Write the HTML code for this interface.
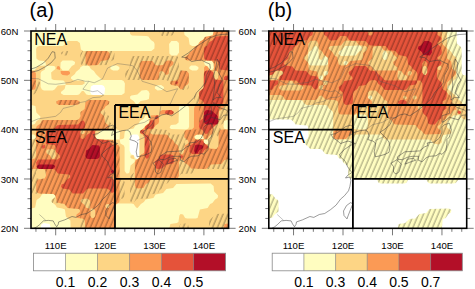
<!DOCTYPE html>
<html><head><meta charset="utf-8"><style>html,body{margin:0;padding:0;background:#fff;width:475px;height:289px;overflow:hidden}svg{display:block}</style></head>
<body><svg width="475" height="289" viewBox="0 0 475 289">
<style>
text{font-family:"Liberation Sans",sans-serif;fill:#000}
.t{font-size:9.6px}
.r{font-size:16px}
.c{font-size:14px}
.p{font-size:20px}
</style>
<defs><pattern id="hp" patternUnits="userSpaceOnUse" width="4.5" height="10" patternTransform="rotate(23)"><line x1="1" y1="0" x2="1" y2="10" stroke="#000" stroke-width="0.7" stroke-opacity="0.58"/></pattern></defs>
<rect width="475" height="289" fill="#fff"/>
<g><path d="M132.9,134.4L137.4,134.6L139.6,137.6L139.6,156.1L137.6,158.9L136.1,158.6L133.4,154.9L131.1,153.9L129.6,151.1L129.6,137.6L130.4,135.6ZM90.9,86.4L93.4,85.1L101.9,85.1L103.9,85.9L105.1,88.4L104.4,93.9L101.9,95.1L93.4,95.1L91.4,94.4L90.1,91.9ZM31.1,31.1L31.1,228.1L40.6,228.1L41.4,224.4L43.9,223.1L49.6,223.9L50.9,228.1L228.4,228.1L228.4,31.1Z" fill="#FFFDC0" fill-rule="evenodd"/>
<path d="M204.4,139.4L206.6,139.6L208.1,140.9L208.4,142.6L207.4,143.9L205.6,144.1L204.1,142.9L203.6,140.1ZM194.4,136.1L197.1,134.4L201.6,134.6L203.4,136.1L203.9,139.1L196.1,139.4L194.4,137.9ZM95.6,136.1L99.4,133.1L101.1,130.1L103.1,129.4L116.6,129.4L118.6,130.1L119.9,132.4L119.6,139.6L98.4,139.6L95.6,137.9ZM147.9,115.1L149.6,117.9L149.4,122.6L145.1,126.1L143.1,129.1L140.4,130.6L139.6,132.6L139.4,157.1L137.9,158.9L134.9,159.4L133.4,155.1L130.6,155.6L130.4,157.4L131.4,158.6L134.9,159.4L134.6,162.1L130.6,165.4L129.4,172.4L128.1,173.6L126.4,173.6L124.6,170.9L124.6,147.6L123.9,145.6L120.4,143.4L119.6,139.6L122.6,139.1L124.1,137.9L124.6,132.4L125.9,130.1L133.6,128.6L135.1,126.1L138.9,123.4L139.9,121.1L143.9,118.4L145.4,115.6ZM187.9,105.6L189.1,108.1L189.1,126.4L188.4,128.4L185.9,129.6L170.9,129.1L169.6,127.6L170.9,125.1L176.1,124.6L178.6,122.6L178.9,108.1L179.6,106.1L182.1,104.9ZM148.4,90.9L149.6,93.4L148.9,98.9L146.4,100.1L140.6,100.9L137.6,104.6L136.1,104.4L134.1,101.4L130.1,98.4L130.1,96.6L131.4,95.4L137.4,94.6L141.6,90.4L146.4,90.1ZM154.9,86.9L156.6,85.4L161.1,85.1L163.9,86.9L163.9,88.6L162.1,90.1L157.6,90.4L154.9,88.6ZM189.4,67.1L191.1,65.6L195.6,65.4L198.4,67.1L198.4,68.9L196.6,70.4L192.1,70.6L189.4,68.9ZM110.4,67.1L112.1,65.6L116.6,65.4L119.4,67.1L119.4,68.9L117.6,70.4L113.1,70.6L110.4,68.9ZM60.9,92.1L64.6,89.1L65.6,85.1L82.1,85.1L84.6,83.6L84.6,81.9L83.1,80.6L73.6,80.4L70.9,78.4L71.1,76.9L74.9,74.1L75.9,71.9L79.6,69.1L80.6,66.9L83.4,65.4L89.1,66.1L90.9,69.1L93.9,70.9L95.9,74.1L102.1,79.9L121.6,80.1L123.6,80.9L124.9,83.4L124.6,92.9L121.6,95.1L88.4,95.1L86.4,94.4L83.6,90.9L81.9,90.9L79.1,94.4L77.1,95.1L63.6,95.1L61.1,93.6ZM45.6,65.6L54.1,65.9L55.4,67.1L55.4,68.9L51.1,72.6L51.6,79.1L53.9,80.1L63.4,80.4L65.4,82.4L65.6,85.1L57.9,85.6L54.6,89.6L52.6,90.4L43.9,90.4L41.9,89.6L40.6,87.1L40.6,73.6L41.4,71.6L44.9,69.4ZM205.4,60.9L210.6,60.4L213.1,61.6L213.9,67.4L212.1,70.1L209.6,69.6L208.1,66.9L204.6,64.6L204.1,62.1ZM60.4,67.6L60.6,62.6L62.6,60.6L72.4,60.4L75.1,62.1L74.6,64.6L71.9,66.1L68.4,70.4L62.6,70.4ZM171.4,40.9L176.9,40.9L178.9,42.9L179.1,52.6L176.9,55.6L171.4,55.6L169.4,53.6L169.1,43.9ZM36.9,46.9L36.1,48.9L36.4,58.4L38.9,60.4L44.1,60.9L45.6,62.6L45.9,65.4L38.1,65.9L34.9,69.9L31.1,70.6L31.1,104.9L35.4,106.1L36.4,112.6L40.4,116.4L39.9,118.9L36.6,121.1L34.9,124.1L31.1,124.9L31.1,134.4L33.9,134.6L35.6,136.1L35.6,137.9L34.4,139.1L31.1,139.6L31.1,208.4L35.1,207.4L36.6,199.9L40.1,197.4L41.9,194.4L43.9,193.6L52.6,193.6L55.4,195.4L55.4,197.1L51.6,200.1L51.6,202.1L55.4,204.9L56.9,207.6L62.4,208.4L64.9,209.6L65.9,216.4L70.4,220.6L70.6,228.1L114.9,228.1L114.9,206.6L117.1,203.6L131.6,203.4L133.6,204.1L136.1,207.6L137.6,207.9L140.9,203.9L143.9,202.1L145.6,199.4L153.4,197.9L155.6,194.4L163.1,192.9L166.4,188.9L173.1,187.9L176.4,183.9L210.6,183.6L213.6,185.9L214.1,191.6L218.1,195.4L217.6,197.9L215.1,199.4L212.4,203.1L210.1,204.1L207.6,207.9L199.9,209.4L197.6,217.9L195.6,218.6L187.1,218.6L185.1,217.9L183.1,214.6L180.6,214.1L179.4,215.6L178.4,222.1L176.9,223.1L170.4,224.1L169.4,228.1L228.4,228.1L228.4,129.6L224.6,128.9L223.4,126.4L224.1,120.9L228.4,119.6L228.4,31.1L213.9,31.1L212.6,35.4L204.9,36.9L202.4,40.4L199.4,42.1L197.6,45.1L195.6,45.9L192.1,45.9L189.6,44.6L188.6,38.1L184.6,34.9L183.9,31.1L129.9,31.1L130.1,33.9L131.9,35.6L146.4,35.9L148.4,36.6L150.9,40.1L153.9,41.9L154.6,43.9L154.4,48.6L151.4,50.9L83.4,50.9L80.9,49.6L79.9,42.9L77.1,40.9L67.6,41.1L64.4,45.1L62.4,45.9L39.1,45.9Z" fill="#FDD585" fill-rule="evenodd"/>
<path d="M228.4,223.4L224.6,224.1L223.6,228.1L228.4,228.1ZM90.6,208.4L93.1,208.6L95.1,210.6L95.4,215.4L93.6,218.1L91.9,218.1L90.4,216.4ZM106.9,203.9L108.6,204.1L109.6,205.4L109.4,207.1L108.1,208.1L106.4,207.9L105.4,206.6L105.6,204.9ZM81.9,199.1L87.1,198.6L89.6,199.9L90.4,201.9L89.9,208.6L86.4,207.9L84.6,204.9L80.9,202.1L80.6,200.6ZM47.4,149.6L52.6,149.1L55.1,150.4L55.9,156.1L54.1,158.9L51.6,158.4L50.1,155.6L46.6,153.4L46.1,150.9ZM194.4,136.1L197.1,134.4L201.6,134.6L203.4,136.1L203.9,139.1L196.1,139.4L194.4,137.9ZM82.1,129.9L83.9,130.1L84.9,131.4L84.6,133.1L83.4,134.1L81.6,133.9L80.6,132.6L80.9,130.9ZM159.4,114.4L171.1,114.6L173.4,113.4L173.6,111.9L171.1,110.1L162.4,110.1L159.9,111.6ZM88.4,100.1L85.6,102.1L84.6,108.9L80.6,112.1L80.4,116.6L79.1,119.1L77.1,119.9L43.9,119.9L41.9,120.6L40.4,123.4L36.9,125.9L36.1,127.9L36.1,156.1L34.9,158.6L31.1,159.4L31.1,168.9L42.6,168.9L44.6,169.6L45.9,172.1L45.9,175.9L44.6,178.4L38.1,179.4L36.4,181.1L36.1,190.6L36.9,192.6L39.1,193.6L53.6,193.9L55.6,195.9L56.9,202.6L64.4,204.1L67.6,208.1L78.6,208.9L79.9,210.1L79.9,211.9L76.6,214.4L76.1,216.9L77.6,218.1L82.1,218.4L84.6,219.6L85.4,228.1L114.9,228.1L114.9,206.4L115.6,204.6L118.9,202.4L119.6,200.4L119.6,147.6L118.9,145.6L116.4,144.1L112.9,139.9L98.4,139.6L96.4,138.9L95.1,136.4L95.1,132.6L96.4,130.1L98.4,129.4L106.9,129.4L109.4,127.6L109.1,126.1L105.1,122.6L104.1,115.9L100.4,112.9L100.6,111.4L104.4,108.6L105.4,106.4L108.9,104.1L109.4,101.6L106.9,100.1ZM56.4,101.6L56.4,103.4L58.9,104.9L77.1,104.9L79.6,103.4L79.6,101.6L77.1,100.1L58.9,100.1ZM214.4,70.4L216.9,70.9L218.6,73.6L218.4,78.1L216.6,79.9L215.1,79.6L213.6,77.1L213.6,70.9ZM186.9,70.9L182.1,70.6L180.1,71.4L178.4,79.1L176.1,80.4L170.9,80.9L169.9,83.6L171.4,84.9L177.9,85.9L180.6,89.6L183.1,89.1L184.4,86.6L188.1,84.1L188.9,82.1L188.9,73.6ZM60.6,71.1L60.9,73.4L62.6,75.1L67.4,75.4L69.9,73.9L69.9,72.1L68.4,70.9ZM31.1,70.6L31.1,90.1L34.9,89.4L35.9,87.1L35.9,73.6L34.9,71.4ZM57.1,66.4L56.6,69.1L60.1,70.1L59.9,67.1L58.6,66.1ZM139.9,78.1L142.6,80.1L157.1,79.9L158.9,78.1L159.4,72.6L160.9,70.9L163.4,71.4L165.9,74.9L168.6,73.9L169.4,67.6L173.1,64.6L173.6,62.1L171.1,60.6L167.4,60.6L165.4,61.4L163.1,64.9L157.6,65.6L155.6,64.9L152.4,60.9L141.6,60.9L139.6,63.6ZM85.4,53.9L85.6,63.4L88.4,65.4L97.9,65.1L101.1,61.1L107.9,60.1L109.9,57.4L109.6,52.9L106.9,50.9L88.4,50.9L86.4,51.6ZM228.4,31.1L213.9,31.1L212.6,35.4L204.9,36.9L203.4,39.4L200.1,41.4L198.4,44.4L194.6,47.1L193.6,49.4L190.4,51.4L188.6,54.4L184.6,57.6L184.9,59.1L187.1,60.4L211.6,60.6L213.9,63.6L213.9,70.1L212.1,70.6L209.9,69.9L207.1,66.1L205.4,66.1L204.1,67.6L203.9,87.1L203.1,89.1L199.1,92.4L198.6,102.9L194.9,106.1L194.1,108.1L193.9,127.4L191.9,129.4L186.1,129.9L184.4,131.6L184.4,137.4L188.1,140.4L188.6,142.9L184.9,145.6L183.6,152.6L182.4,153.9L180.6,153.9L179.4,152.6L178.1,145.6L174.6,143.1L172.9,140.1L169.6,138.1L168.1,135.4L166.1,134.6L152.6,134.6L149.9,132.9L150.4,130.4L153.1,128.9L154.9,126.1L158.4,123.6L159.1,121.6L158.9,114.9L150.6,115.6L148.9,123.6L145.9,125.4L144.1,128.1L140.1,131.1L140.6,133.6L143.1,134.9L144.6,137.6L144.6,151.1L143.9,153.1L140.1,155.6L139.1,157.9L135.6,160.4L134.9,162.4L134.9,185.6L135.9,187.9L137.9,188.6L143.4,187.9L145.9,184.1L148.1,183.1L150.6,179.6L152.6,178.9L175.9,178.9L177.9,178.1L178.9,175.9L178.9,162.4L180.6,159.6L183.1,160.1L184.6,162.9L187.6,164.6L191.1,168.6L205.6,168.9L207.6,168.1L210.9,164.4L221.4,163.9L224.6,159.9L228.4,159.1L228.4,129.6L221.6,129.6L219.4,130.6L218.6,132.4L218.6,146.1L216.4,149.1L209.9,148.6L207.4,145.1L204.4,143.4L203.6,141.1L203.9,139.4L207.6,138.6L209.1,135.9L212.9,133.4L213.9,126.9L218.1,122.6L219.1,111.1L222.1,109.4L224.6,105.6L228.4,104.9Z" fill="#FB9A55" fill-rule="evenodd"/>
<path d="M180.9,154.9L179.6,157.4L182.1,158.6L183.4,156.1ZM173.4,155.4L171.1,154.4L162.4,154.4L160.4,155.1L158.9,157.9L154.9,161.4L155.4,167.9L157.6,168.9L162.1,168.6L166.4,164.4L173.1,163.4L174.1,161.1ZM45.1,144.6L41.6,145.9L42.1,148.4L43.9,148.6L45.1,147.6ZM208.1,146.4L204.1,143.1L202.6,140.4L196.1,139.9L192.6,144.1L189.9,145.6L189.4,152.1L192.1,154.1L201.6,153.9L205.1,149.6L207.9,147.9ZM144.9,134.6L144.6,156.1L146.1,158.6L147.9,158.6L149.4,156.1L149.4,137.6L147.9,135.1ZM141.1,130.1L140.1,131.4L140.4,133.1L144.1,134.4L144.4,129.9ZM46.6,130.6L45.9,132.6L45.9,144.1L54.6,145.1L55.9,147.6L56.1,152.1L59.6,155.1L60.1,157.6L57.4,159.4L38.1,159.6L36.1,162.4L37.1,168.1L39.1,168.9L52.6,168.9L54.6,169.6L57.9,173.6L68.9,174.4L70.1,175.6L70.1,177.4L66.9,179.6L64.1,183.4L61.6,184.6L61.1,187.1L62.6,188.4L69.4,189.4L72.6,193.4L83.1,193.4L86.4,189.4L88.4,188.6L106.9,188.6L108.9,189.4L111.6,193.1L114.4,192.1L114.9,182.1L114.1,180.1L110.9,178.1L110.4,175.6L114.1,172.9L114.9,170.9L114.9,147.6L114.1,145.6L111.4,144.1L108.9,140.4L96.4,138.9L95.1,136.4L94.9,131.6L93.6,130.1L91.1,130.6L89.9,133.1L86.6,135.1L84.4,138.6L81.9,139.1L80.4,137.4L80.1,132.6L80.9,130.6L84.9,127.4L85.1,122.9L83.6,120.4L81.1,120.9L78.1,124.6L58.9,124.9L56.9,125.6L53.6,129.4ZM154.4,120.1L150.6,120.6L149.1,123.4L145.1,126.4L144.9,129.4L153.4,128.6L154.4,126.4ZM157.9,115.6L156.4,115.4L155.1,116.4L154.9,119.4L158.4,118.4ZM164.9,111.9L165.1,113.4L167.4,114.6L172.1,114.4L173.6,112.9L173.4,111.4L171.1,110.1L166.4,110.4ZM176.1,80.9L174.9,83.4L177.1,84.6L178.4,82.1ZM228.4,75.6L225.1,76.1L223.9,77.6L223.6,79.9L228.4,80.1ZM210.6,70.6L206.9,70.6L204.6,71.6L203.9,73.6L203.6,88.1L199.6,91.4L198.9,93.4L199.6,98.9L202.4,100.4L203.9,103.1L203.9,116.6L203.1,118.6L199.6,120.9L198.9,126.4L199.6,128.4L202.4,129.9L205.4,133.9L207.9,133.4L209.1,130.9L217.6,123.6L218.4,121.6L218.6,107.1L222.6,103.9L223.4,101.9L223.4,80.6L214.9,79.6L213.6,77.1L213.4,72.6ZM215.9,36.4L212.4,40.4L209.4,42.1L207.4,45.4L204.6,46.9L203.9,48.9L204.1,58.4L206.9,60.4L216.4,60.6L218.4,62.6L219.6,69.6L228.4,70.4L228.4,36.1Z" fill="#E5533A" fill-rule="evenodd"/>
<path d="M111.9,169.6L110.6,172.1L113.1,173.4L114.4,170.9ZM36.6,166.1L36.9,167.6L39.1,168.9L52.6,168.9L55.1,167.1L54.9,165.6L52.6,164.4L39.1,164.4ZM202.1,145.1L197.1,144.6L194.9,145.6L194.1,151.1L195.4,153.4L197.4,153.4L199.1,150.6L202.9,147.9L203.1,146.4ZM98.9,145.4L92.4,144.9L88.9,148.9L86.1,150.4L85.4,156.1L86.4,158.4L88.4,159.1L96.9,159.1L99.1,158.1L99.9,156.1L99.9,147.6ZM204.9,110.9L203.9,113.1L203.9,121.6L204.6,123.6L206.9,124.6L215.4,124.6L217.4,123.9L218.4,121.6L217.6,115.9L211.6,110.4L206.9,110.1Z" fill="#B30F28" fill-rule="evenodd"/>
<clipPath id="ha"><path d="M179.1,226.4L179.1,228.1L188.9,228.1L188.1,224.4L185.9,223.4L181.1,223.6ZM209.1,220.6L208.9,228.1L228.4,228.1L228.4,213.6L215.9,213.9ZM91.9,208.9L93.6,208.9L95.4,211.6L95.1,216.4L93.6,218.1L91.9,218.1L90.1,215.4L90.4,210.6ZM106.9,203.9L108.6,204.1L109.6,205.4L109.4,207.1L108.1,208.1L106.4,207.9L105.4,206.6L105.6,204.9ZM37.1,169.6L42.6,168.9L45.1,170.1L45.9,175.9L44.6,178.4L39.1,179.1L36.6,177.9L35.9,172.1ZM185.9,139.9L187.6,140.1L188.6,141.4L188.4,143.1L187.1,144.1L185.4,143.9L184.4,142.6L184.6,140.9ZM203.6,140.1L204.4,139.4L207.1,139.9L208.6,141.6L208.9,144.1L205.4,144.1L203.9,142.4ZM216.6,134.9L218.6,137.6L218.4,147.1L216.4,149.1L210.9,149.1L209.1,147.6L208.6,144.9L212.9,143.4L213.9,136.6ZM194.4,136.1L197.1,134.4L201.6,134.6L203.4,136.1L203.9,139.1L196.1,139.4L194.4,137.9ZM157.9,115.6L156.4,115.4L155.1,116.4L154.9,119.4L158.4,118.4ZM164.9,111.9L165.1,113.4L167.4,114.6L172.1,114.4L173.6,112.9L173.4,111.4L171.1,110.1L166.4,110.4ZM88.4,100.1L85.6,102.1L84.6,108.9L80.6,112.1L80.4,116.6L79.1,119.1L77.1,119.9L43.9,119.9L41.9,120.6L40.4,123.4L36.9,125.9L35.9,137.4L33.9,139.4L31.1,139.6L31.1,193.6L53.6,193.9L55.4,195.4L55.4,197.1L51.6,200.1L51.4,201.6L52.4,202.9L62.4,203.4L64.4,204.1L67.6,208.1L79.1,209.1L80.4,211.6L80.4,228.1L114.9,228.1L114.9,206.4L115.6,204.6L118.4,202.9L121.1,199.1L123.4,198.1L124.6,195.9L124.6,181.9L123.4,179.6L120.4,177.9L119.6,175.9L119.6,147.6L118.9,145.6L116.4,144.1L112.9,139.9L98.4,139.6L96.4,138.9L95.1,136.4L95.4,131.6L97.4,129.6L111.9,129.4L114.4,127.6L114.1,126.1L110.1,122.6L109.1,115.9L106.4,114.4L104.9,111.6L105.1,107.1L108.9,104.1L109.4,101.6L106.9,100.1ZM56.4,101.6L56.4,103.4L58.9,104.9L77.1,104.9L79.6,103.4L79.6,101.6L77.1,100.1L58.9,100.1ZM38.6,80.6L31.1,80.4L31.1,94.9L34.9,94.1L36.4,91.6L39.9,89.1L40.6,83.4ZM214.1,70.4L216.9,70.9L218.4,72.6L218.6,77.1L216.6,79.9L213.9,78.1ZM130.6,56.9L129.6,68.4L125.6,71.6L124.9,73.6L125.9,79.4L127.9,80.1L166.1,80.1L168.1,80.9L171.4,84.9L177.9,85.9L181.1,89.9L185.9,90.1L188.1,89.1L188.9,87.1L188.6,72.6L186.9,70.9L182.1,70.6L179.6,69.4L178.9,67.4L178.9,58.6L177.9,56.6L175.9,55.9L132.9,55.9ZM80.4,62.4L81.1,64.4L83.4,65.4L107.9,65.1L111.4,60.9L114.1,59.4L114.6,52.9L111.9,50.9L82.4,51.1L80.4,53.9ZM61.1,52.4L61.1,54.1L63.6,55.6L67.4,55.6L69.9,54.1L69.9,52.4L67.4,50.9L63.6,50.9ZM228.4,31.1L213.9,31.1L212.6,35.4L204.9,36.9L203.4,39.4L200.1,41.4L198.4,44.4L194.6,47.1L193.6,49.4L190.4,51.4L188.6,54.4L184.6,57.6L184.9,59.1L187.1,60.4L210.6,60.4L212.6,61.1L213.9,63.6L213.4,70.6L206.9,70.6L204.6,71.6L203.9,73.6L203.6,88.1L194.9,96.1L194.1,98.1L194.4,102.9L198.1,106.1L198.9,108.1L198.9,126.4L198.1,128.4L195.9,129.6L186.1,129.9L182.9,133.9L180.9,134.6L172.4,134.6L170.4,133.9L167.1,129.9L155.6,128.9L154.4,126.4L154.4,120.1L152.9,119.9L150.6,120.6L149.1,123.4L145.9,125.4L144.1,128.1L140.1,131.1L140.6,133.6L143.1,134.9L144.6,137.6L144.6,151.1L143.9,153.1L140.9,154.9L139.1,157.9L135.6,160.4L134.6,171.9L130.1,176.1L129.9,200.4L131.4,202.9L133.9,202.4L136.9,198.9L147.4,198.4L150.6,194.4L158.1,192.9L159.6,190.1L162.9,188.1L164.6,185.1L167.9,183.1L170.4,179.6L177.9,178.1L181.1,174.1L191.9,173.6L195.1,169.6L197.1,168.9L228.4,168.9L228.4,129.6L221.6,129.6L218.9,127.6L219.1,126.1L222.9,123.4L224.6,120.4L228.4,119.6ZM159.4,31.1L160.1,34.9L162.4,35.9L172.1,35.6L174.1,32.9L174.1,31.1Z" clip-rule="evenodd"/></clipPath>
<rect x="31.0" y="31.0" width="197.6" height="197.3" fill="url(#hp)" clip-path="url(#ha)"/></g>
<g><path d="M451.4,210.1L448.9,208.6L429.4,208.9L426.2,212.9L419.4,213.9L415.2,218.4L409.4,218.9L405.2,223.1L398.7,224.1L397.7,228.1L441.9,228.1L442.7,219.6L445.7,217.9L448.4,213.9L450.9,212.6ZM268.9,193.9L268.9,218.4L272.7,217.6L274.2,214.9L278.4,211.4L278.7,201.9L277.9,199.9L275.2,198.4L272.7,194.6ZM268.9,31.1L268.9,119.6L290.4,119.6L292.4,120.4L295.7,124.4L307.2,125.4L308.4,127.9L308.4,136.4L307.7,138.4L304.2,141.1L304.7,143.6L310.4,148.9L320.2,149.1L322.2,149.9L325.4,153.9L336.9,154.9L338.7,157.9L341.7,159.6L343.7,162.9L347.4,165.4L348.2,167.4L348.2,175.9L350.2,178.6L374.7,178.9L376.7,179.6L378.9,182.9L380.9,183.6L404.2,183.6L406.2,182.9L408.4,179.6L410.4,178.9L424.2,178.9L426.2,179.6L428.4,182.9L430.4,183.6L453.7,183.6L455.7,182.9L458.9,179.1L466.7,178.9L466.7,75.6L462.9,74.9L461.7,72.4L461.7,48.9L460.9,46.9L456.9,43.6L456.7,31.1Z" fill="#FFFDC0" fill-rule="evenodd"/>
<path d="M354.2,115.4L356.2,114.6L364.7,114.6L367.2,115.9L367.9,117.9L367.9,126.4L366.7,128.9L364.9,129.6L355.9,129.6L353.7,128.4L352.9,126.4L352.9,117.9ZM369.7,95.4L371.4,95.6L372.4,96.9L372.2,98.6L370.9,99.6L369.2,99.4L368.2,98.1L368.4,96.4ZM322.9,75.6L322.9,78.6L321.4,79.9L319.7,79.6L318.7,78.4L318.9,76.9L320.7,75.6ZM326.9,71.1L327.9,72.4L327.7,74.1L326.2,75.4L323.7,75.4L323.7,72.1L325.2,70.9ZM344.9,60.9L346.7,61.1L347.7,62.4L347.4,64.1L346.2,65.1L344.4,64.9L343.4,63.6L343.7,61.9ZM384.2,51.1L385.9,51.1L387.7,53.9L387.4,58.4L385.9,60.1L384.2,60.1L382.4,57.4L382.7,52.9ZM308.9,51.9L311.9,50.1L314.2,46.6L316.7,46.1L318.4,48.9L318.9,58.9L321.7,59.9L324.2,56.6L326.7,56.1L328.4,58.9L327.7,64.4L325.4,65.6L311.4,65.6L309.4,64.9L308.2,62.4L308.2,53.9ZM338.4,54.1L338.9,51.6L341.7,50.1L345.2,45.9L359.7,45.6L362.4,47.4L361.9,49.9L359.2,51.4L355.7,55.6L341.2,55.9ZM268.9,31.1L268.9,99.9L300.4,99.9L302.4,100.6L304.2,103.6L306.7,104.9L325.2,104.9L327.2,105.6L328.9,108.6L332.4,111.1L333.2,113.1L333.2,136.4L335.2,139.1L349.9,139.4L351.9,138.6L353.4,135.9L355.9,134.4L379.4,134.4L381.4,135.1L383.2,138.1L385.7,139.4L428.9,139.4L430.9,140.1L433.2,143.6L438.9,144.4L441.7,142.4L441.9,137.6L443.2,135.1L449.9,134.1L451.4,132.9L450.9,130.4L447.2,127.4L446.9,122.9L447.7,120.9L450.7,119.1L453.2,115.4L459.7,114.9L462.9,118.9L466.7,119.6L466.7,105.1L462.9,104.4L461.2,101.4L458.2,99.6L456.2,96.4L447.4,88.6L447.9,86.1L450.7,84.6L452.4,81.6L456.4,78.1L456.7,58.9L455.9,56.9L453.4,55.4L451.4,52.1L447.2,48.6L446.9,31.1Z" fill="#FDD585" fill-rule="evenodd"/>
<path d="M333.2,136.4L333.9,138.4L336.2,139.4L345.9,139.1L349.4,134.9L351.9,133.6L352.4,131.1L349.9,129.6L335.2,129.9L333.4,131.6ZM457.4,110.1L457.4,113.1L458.7,114.1L460.4,113.9L460.9,111.4ZM419.2,105.4L420.9,105.6L421.9,106.9L421.7,108.6L420.4,109.6L418.7,109.4L417.7,108.1L417.9,106.4ZM414.2,95.4L415.9,95.6L416.9,96.9L416.7,98.6L415.4,99.6L413.7,99.4L412.7,98.1L412.9,96.4ZM404.4,95.4L406.9,96.9L406.7,98.6L405.4,99.6L402.9,98.1L403.2,96.4ZM322.7,85.1L323.4,85.9L322.9,88.6L321.4,89.9L319.7,89.6L318.7,88.4L318.9,86.6L320.4,85.4ZM279.2,86.9L280.9,85.4L286.4,84.9L289.4,81.1L291.9,80.6L294.7,84.4L301.9,85.6L303.2,86.9L303.2,88.6L300.4,90.4L281.9,90.4L279.2,88.6ZM323.2,80.4L326.7,80.6L327.9,82.1L327.7,83.9L326.2,85.1L323.4,85.1ZM410.9,71.1L411.9,72.4L411.7,74.1L410.2,75.4L407.4,75.4L407.7,72.1L409.2,70.9ZM397.9,70.4L401.4,71.1L403.7,74.6L407.4,75.9L407.2,78.1L405.7,79.9L400.7,80.4L398.2,79.1L397.4,77.1ZM438.9,65.9L440.7,66.1L441.7,67.4L441.4,69.1L440.2,70.1L438.4,69.9L437.4,68.6L437.7,66.9ZM423.9,65.9L425.7,65.9L427.4,68.6L427.2,73.4L425.7,75.1L423.9,75.1L422.2,72.4L422.4,67.6ZM373.9,46.4L380.4,45.9L383.7,49.9L390.4,50.9L392.2,52.1L393.2,54.4L397.2,57.6L396.9,59.1L393.2,62.1L393.7,64.6L397.4,67.6L397.2,70.6L375.9,70.6L373.9,69.9L372.2,66.9L368.7,64.6L368.2,62.1L372.4,58.4L372.7,48.6ZM367.4,47.4L366.9,49.9L363.2,52.9L362.9,57.4L361.7,59.9L350.2,60.9L346.9,64.9L344.9,65.6L341.2,65.6L338.7,64.4L337.2,56.9L334.4,55.4L332.4,52.1L328.7,49.1L328.7,47.4L330.4,45.9L340.9,45.4L344.2,41.4L346.2,40.6L355.7,40.9L358.9,44.9L365.7,45.9ZM310.4,40.9L315.2,40.6L317.2,41.4L318.4,43.9L319.2,49.6L321.9,51.1L323.9,54.4L328.2,57.9L328.4,72.4L327.7,74.4L323.9,77.1L323.2,80.4L320.4,80.1L318.7,78.6L317.2,71.4L311.4,70.6L308.9,69.4L307.9,62.6L303.9,58.6L304.2,57.1L307.9,53.6L308.2,43.9ZM268.9,31.1L268.9,75.4L272.7,74.6L274.2,71.9L276.9,70.4L281.4,70.6L283.2,72.1L282.7,74.6L280.2,76.1L277.7,79.6L268.9,80.4L268.9,94.9L280.7,94.9L283.2,96.4L284.7,99.1L286.7,99.9L315.2,99.9L317.2,99.1L319.2,95.9L321.7,95.4L325.4,99.6L334.9,99.9L337.4,101.1L338.2,103.1L338.2,111.6L339.2,113.9L341.2,114.6L354.7,114.6L357.4,112.6L357.7,108.1L358.9,105.6L360.9,104.9L369.7,104.9L372.2,103.4L371.7,100.9L367.9,97.9L367.9,92.4L369.9,90.4L375.7,90.4L382.2,96.4L383.9,99.4L386.9,101.1L387.7,103.1L387.9,117.6L392.2,121.1L393.7,123.9L395.7,124.6L415.2,124.9L418.7,128.9L421.9,130.9L423.4,133.6L425.4,134.4L440.4,133.9L441.4,131.1L437.7,128.1L437.7,126.1L440.7,124.1L442.4,121.1L445.7,119.1L447.4,116.1L450.7,114.1L453.2,110.6L456.7,109.6L455.9,106.1L452.2,102.9L451.2,96.1L448.4,94.6L446.9,91.9L447.2,82.4L455.7,74.6L456.2,72.1L452.2,68.4L451.2,61.6L447.2,58.4L446.7,47.9L442.7,44.6L441.9,42.6L441.9,31.1Z" fill="#FB9A55" fill-rule="evenodd"/>
<path d="M458.7,110.6L457.4,112.9L459.9,114.1L461.2,111.9ZM398.2,101.6L398.2,103.4L400.7,104.9L404.2,104.9L406.7,103.4L406.7,101.6L404.2,100.1L400.7,100.1ZM278.4,80.4L268.9,80.4L268.9,90.1L272.7,89.4L274.2,86.6L277.9,84.1ZM423.9,60.9L425.7,60.9L427.4,63.6L427.4,72.4L425.7,75.1L423.9,75.1L422.2,72.4L422.2,63.6ZM323.4,31.1L324.2,34.9L326.9,36.4L329.4,39.9L331.4,40.6L336.9,39.9L340.2,36.1L344.9,35.9L346.9,36.6L349.2,39.9L351.2,40.6L365.7,40.9L368.9,44.9L370.9,45.6L385.4,45.9L388.7,49.9L395.4,50.9L398.7,54.9L406.2,56.4L407.2,57.9L408.2,64.4L410.9,65.9L412.9,69.1L415.9,70.9L417.4,73.4L417.2,80.4L385.7,80.4L383.7,79.6L381.9,76.9L378.2,74.1L376.7,71.4L369.9,70.4L365.7,65.9L355.2,65.9L351.7,70.1L348.7,72.1L349.2,74.6L352.4,76.9L352.4,78.9L350.9,80.1L344.2,81.1L342.7,83.9L338.7,86.9L339.2,89.4L342.9,92.4L343.2,101.9L344.2,104.1L346.2,104.9L351.9,104.1L352.9,101.9L352.9,93.4L353.7,91.4L357.2,88.9L358.9,85.9L365.7,84.9L369.9,80.4L374.7,80.1L376.7,80.9L378.4,83.9L381.2,85.6L384.7,89.9L404.2,90.1L406.2,89.4L409.4,85.4L415.7,84.6L416.9,83.1L417.2,80.4L420.7,80.6L422.4,83.4L422.4,111.6L423.2,113.6L427.2,116.9L428.2,123.6L430.4,124.6L434.9,124.4L438.4,120.1L441.2,118.6L442.7,111.1L446.4,108.4L446.4,106.6L442.9,104.1L442.4,101.6L446.2,98.9L446.9,93.4L446.2,91.4L442.7,89.1L441.7,82.4L437.7,79.1L436.9,77.1L437.2,67.6L441.4,63.9L441.4,62.1L437.7,59.1L437.4,57.6L441.2,54.6L441.9,52.6L441.2,46.9L437.4,44.1L437.4,42.4L441.2,39.4L441.4,37.9L437.7,34.9L436.9,31.1L372.9,31.1L372.7,33.9L371.2,35.6L369.4,35.6L368.2,34.4L367.7,31.1ZM268.9,31.1L268.9,75.4L272.7,74.6L275.9,70.6L281.4,70.6L283.2,72.1L283.2,73.9L279.7,76.6L279.2,80.1L296.4,80.4L300.7,84.9L311.2,85.4L314.2,89.1L316.7,89.6L318.2,87.1L318.2,78.6L317.2,76.4L310.4,75.4L306.2,70.9L295.7,70.4L292.4,66.4L285.7,65.4L283.9,63.9L284.4,61.4L288.2,58.4L289.2,51.9L292.2,50.1L293.9,47.1L297.2,45.1L299.7,41.4L307.2,39.9L309.7,36.4L312.4,34.9L313.2,31.1Z" fill="#E5533A" fill-rule="evenodd"/>
<path d="M424.4,41.1L420.9,45.4L418.4,46.6L417.9,49.1L421.9,52.1L423.4,54.9L429.9,55.4L431.9,52.6L431.7,42.9L428.9,40.9Z" fill="#B30F28" fill-rule="evenodd"/>
<clipPath id="hb"><path d="M451.4,210.1L448.9,208.6L429.4,208.9L426.2,212.9L419.4,213.9L415.2,218.4L409.4,218.9L405.2,223.1L398.7,224.1L397.7,228.1L441.9,228.1L442.7,219.6L445.7,217.9L448.4,213.9L450.9,212.6ZM268.9,193.9L268.9,218.4L272.7,217.6L274.2,214.9L278.4,211.4L278.7,201.9L277.9,199.9L275.2,198.4L272.7,194.6ZM268.9,31.1L268.9,119.6L290.4,119.6L292.4,120.4L295.7,124.4L307.2,125.4L308.4,127.9L308.4,136.4L307.7,138.4L304.2,141.1L304.7,143.6L310.4,148.9L320.2,149.1L322.2,149.9L325.4,153.9L336.9,154.9L338.7,157.9L341.7,159.6L343.7,162.9L347.4,165.4L348.2,167.4L348.2,175.9L350.2,178.6L374.7,178.9L376.7,179.6L378.9,182.9L380.9,183.6L404.2,183.6L406.2,182.9L408.4,179.6L410.4,178.9L424.2,178.9L426.2,179.6L428.4,182.9L430.4,183.6L453.7,183.6L455.7,182.9L458.9,179.1L466.7,178.9L466.7,75.6L462.9,74.9L461.7,72.4L461.7,48.9L460.9,46.9L456.9,43.6L456.7,31.1Z" clip-rule="evenodd"/></clipPath>
<rect x="268.8" y="31.0" width="197.9" height="197.3" fill="url(#hp)" clip-path="url(#hb)"/></g>
<clipPath id="ca"><rect x="31.0" y="31.0" width="197.60" height="197.30"/></clipPath><g clip-path="url(#ca)" fill="none" stroke-linejoin="round"><path d="M34.0,228.3L36.9,226.8L39.4,224.8L43.4,220.9L48.3,220.4L53.2,220.9L54.7,223.9L56.7,226.8L58.2,224.4L58.7,221.9L64.6,219.9L72.0,216.5L76.0,217.4L81.4,214.5L86.8,213.5L92.8,209.6L98.2,205.1L102.6,199.2L106.6,195.7L110.5,190.8L112.0,186.4L113.0,180.5L112.0,177.0L107.6,178.0L110.0,175.0L114.0,172.6L109.5,166.6L107.6,161.7L102.6,156.8L101.6,154.3L106.6,149.4L112.5,145.4L117.5,143.5L110.0,141.0L102.6,143.5L99.2,140.5L95.2,138.0L93.2,134.6L97.7,133.6L102.6,130.6L107.6,126.7L112.5,125.2L116.0,127.2L112.5,132.1L111.5,135.6L116.0,132.6L122.4,130.6L127.3,130.1L129.8,131.6L131.3,136.1L129.8,139.5L134.7,141.0L137.7,143.0L137.2,146.9L136.2,151.8L137.2,156.8L142.2,155.8L147.1,154.3L151.0,152.3L152.0,146.9L151.0,142.0L147.1,137.0L142.2,132.1L146.1,129.7L152.0,124.7L154.5,118.8L158.0,117.3L161.9,114.9L166.8,113.9L171.8,115.8L179.2,110.9L186.6,105.0L194.0,97.6L196.5,92.7L201.4,87.7L205.4,82.8L206.4,75.4L210.3,68.0L209.8,64.0L206.4,62.6L201.4,60.1L196.5,60.6L191.6,61.6L189.1,59.6L186.6,57.6L181.7,57.1L188.1,53.2L194.0,48.3L201.4,43.3L208.8,38.4L216.2,35.4L221.2,34.5L229.6,34.0M212.8,100.1L213.8,92.7L214.8,85.3L213.8,75.4L216.2,65.5L217.2,59.1L219.7,63.1L218.7,72.9L222.7,80.3L219.7,84.3L217.2,92.7L221.2,97.6L216.2,97.6L212.8,100.1ZM203.9,122.3L203.9,115.8L211.3,113.4L211.3,107.5L213.8,102.5L218.7,107.5L226.1,109.9L230.1,113.4L228.6,114.9L223.7,115.3L220.2,119.8L211.3,117.3L206.4,121.3L203.9,122.3ZM211.3,123.2L213.3,129.7L211.3,137.0L208.8,139.5L208.8,144.4L207.9,150.4L203.9,154.3L201.4,153.3L198.0,155.8L191.6,156.3L188.1,157.8L184.1,161.7L180.2,160.2L180.7,156.3L174.3,156.3L169.3,157.3L164.4,159.7L159.4,159.2L159.4,156.8L166.8,151.8L174.3,151.4L181.7,150.9L186.6,146.9L190.1,145.4L189.1,143.0L196.5,142.0L201.4,138.0L203.9,132.1L203.9,127.2L206.4,124.7L211.3,123.2ZM158.9,159.7L163.4,164.2L160.9,172.1L158.0,174.0L155.5,172.1L155.5,166.6L153.0,163.2L156.5,161.2L158.9,159.7ZM166.8,164.2L171.8,162.2L177.7,160.2L175.2,158.3L169.3,159.2L166.8,164.2ZM112.5,202.7L115.0,203.6L113.0,208.6L110.0,216.0L109.1,218.9L106.1,215.5L105.6,211.0L108.6,205.6L112.5,202.7ZM31.0,72.4L38.4,70.5L45.8,66.5L50.8,63.1L55.2,58.1L54.7,52.2L52.2,51.7L48.3,58.1L43.4,63.1L35.9,67.5L31.0,69.0Z" stroke="#3c3c3c" stroke-width="0.6" stroke-opacity="0.85"/><path d="M31.0,78.4L38.4,78.8L43.4,81.3L48.3,83.8L55.7,84.3L63.1,83.3L70.5,82.3L77.9,79.3L85.3,81.3L88.8,81.3M88.8,81.3L82.9,89.2L92.8,91.7L97.7,90.7L103.6,95.1L100.2,97.1L92.8,97.6L85.3,101.5L77.9,103.0L73.0,106.0L63.1,108.4L60.6,112.4L55.7,116.3L45.8,117.8L38.4,118.8L31.0,121.8M88.8,81.3L94.2,82.8L102.6,78.8L107.6,68.0L117.5,63.6L132.3,65.5L137.2,70.5L142.2,81.3L157.0,85.8L166.8,91.7L177.7,88.7L174.3,95.1L170.3,104.0L160.9,105.5L159.4,115.8L157.5,117.8M127.3,130.1L134.7,124.7L144.6,122.3L152.0,117.8L157.5,117.8M137.2,140.5L146.1,136.6M39.4,214.5L45.8,220.4" stroke="#555" stroke-width="0.5" stroke-opacity="0.7"/></g>
<clipPath id="cb"><rect x="268.8" y="31.0" width="197.90" height="197.30"/></clipPath><g clip-path="url(#cb)" fill="none" stroke-linejoin="round"><path d="M271.8,228.3L274.7,226.8L277.2,224.8L281.2,220.9L286.1,220.4L291.1,220.9L292.5,223.9L294.5,226.8L296.0,224.4L296.5,221.9L302.4,219.9L309.9,216.5L313.8,217.4L319.3,214.5L324.7,213.5L330.6,209.6L336.1,205.1L340.5,199.2L344.5,195.7L348.5,190.8L349.9,186.4L350.9,180.5L349.9,177.0L345.5,178.0L348.0,175.0L351.9,172.6L347.5,166.6L345.5,161.7L340.5,156.8L339.5,154.3L344.5,149.4L350.4,145.4L355.4,143.5L348.0,141.0L340.5,143.5L337.1,140.5L333.1,138.0L331.1,134.6L335.6,133.6L340.5,130.6L345.5,126.7L350.4,125.2L353.9,127.2L350.4,132.1L349.4,135.6L353.9,132.6L360.3,130.6L365.3,130.1L367.8,131.6L369.2,136.1L367.8,139.5L372.7,141.0L375.7,143.0L375.2,146.9L374.2,151.8L375.2,156.8L380.1,155.8L385.1,154.3L389.0,152.3L390.0,146.9L389.0,142.0L385.1,137.0L380.1,132.1L384.1,129.7L390.0,124.7L392.5,118.8L396.0,117.3L399.9,114.9L404.9,113.9L409.8,115.8L417.2,110.9L424.6,105.0L432.1,97.6L434.5,92.7L439.5,87.7L443.4,82.8L444.4,75.4L448.4,68.0L447.9,64.0L444.4,62.6L439.5,60.1L434.5,60.6L429.6,61.6L427.1,59.6L424.6,57.6L419.7,57.1L426.1,53.2L432.1,48.3L439.5,43.3L446.9,38.4L454.3,35.4L459.3,34.5L467.7,34.0M450.9,100.1L451.9,92.7L452.8,85.3L451.9,75.4L454.3,65.5L455.3,59.1L457.8,63.1L456.8,72.9L460.8,80.3L457.8,84.3L455.3,92.7L459.3,97.6L454.3,97.6L450.9,100.1ZM442.0,122.3L442.0,115.8L449.4,113.4L449.4,107.5L451.9,102.5L456.8,107.5L464.2,109.9L468.2,113.4L466.7,114.9L461.8,115.3L458.3,119.8L449.4,117.3L444.4,121.3L442.0,122.3ZM449.4,123.2L451.4,129.7L449.4,137.0L446.9,139.5L446.9,144.4L445.9,150.4L442.0,154.3L439.5,153.3L436.0,155.8L429.6,156.3L426.1,157.8L422.2,161.7L418.2,160.2L418.7,156.3L412.3,156.3L407.3,157.3L402.4,159.7L397.4,159.2L397.4,156.8L404.9,151.8L412.3,151.4L419.7,150.9L424.6,146.9L428.1,145.4L427.1,143.0L434.5,142.0L439.5,138.0L442.0,132.1L442.0,127.2L444.4,124.7L449.4,123.2ZM396.9,159.7L401.4,164.2L398.9,172.1L396.0,174.0L393.5,172.1L393.5,166.6L391.0,163.2L394.5,161.2L396.9,159.7ZM404.9,164.2L409.8,162.2L415.7,160.2L413.3,158.3L407.3,159.2L404.9,164.2ZM350.4,202.7L352.9,203.6L350.9,208.6L348.0,216.0L347.0,218.9L344.0,215.5L343.5,211.0L346.5,205.6L350.4,202.7ZM268.8,72.4L276.2,70.5L283.6,66.5L288.6,63.1L293.0,58.1L292.5,52.2L290.1,51.7L286.1,58.1L281.2,63.1L273.7,67.5L268.8,69.0Z" stroke="#3c3c3c" stroke-width="0.6" stroke-opacity="0.85"/><path d="M268.8,78.4L276.2,78.8L281.2,81.3L286.1,83.8L293.5,84.3L301.0,83.3L308.4,82.3L315.8,79.3L323.2,81.3L326.7,81.3M326.7,81.3L320.7,89.2L330.6,91.7L335.6,90.7L341.5,95.1L338.1,97.1L330.6,97.6L323.2,101.5L315.8,103.0L310.9,106.0L301.0,108.4L298.5,112.4L293.5,116.3L283.6,117.8L276.2,118.8L268.8,121.8M326.7,81.3L332.1,82.8L340.5,78.8L345.5,68.0L355.4,63.6L370.2,65.5L375.2,70.5L380.1,81.3L395.0,85.8L404.9,91.7L415.7,88.7L412.3,95.1L408.3,104.0L398.9,105.5L397.4,115.8L395.5,117.8M365.3,130.1L372.7,124.7L382.6,122.3L390.0,117.8L395.5,117.8M375.2,140.5L384.1,136.6M277.2,214.5L283.6,220.4" stroke="#555" stroke-width="0.5" stroke-opacity="0.7"/></g>
<path d="M35.94,228.3v3.5M35.94,31.0v-3.5M45.82,228.3v3.5M45.82,31.0v-3.5M55.70,228.3v7M55.70,31.0v-7M65.58,228.3v3.5M65.58,31.0v-3.5M75.46,228.3v3.5M75.46,31.0v-3.5M85.34,228.3v3.5M85.34,31.0v-3.5M95.22,228.3v3.5M95.22,31.0v-3.5M105.10,228.3v7M105.10,31.0v-7M114.98,228.3v3.5M114.98,31.0v-3.5M124.86,228.3v3.5M124.86,31.0v-3.5M134.74,228.3v3.5M134.74,31.0v-3.5M144.62,228.3v3.5M144.62,31.0v-3.5M154.50,228.3v7M154.50,31.0v-7M164.38,228.3v3.5M164.38,31.0v-3.5M174.26,228.3v3.5M174.26,31.0v-3.5M184.14,228.3v3.5M184.14,31.0v-3.5M194.02,228.3v3.5M194.02,31.0v-3.5M203.90,228.3v7M203.90,31.0v-7M213.78,228.3v3.5M213.78,31.0v-3.5M223.66,228.3v3.5M223.66,31.0v-3.5M31.0,228.30h-7M228.6,228.30h7M31.0,218.44h-3.5M228.6,218.44h3.5M31.0,208.57h-3.5M228.6,208.57h3.5M31.0,198.71h-3.5M228.6,198.71h3.5M31.0,188.84h-3.5M228.6,188.84h3.5M31.0,178.97h-7M228.6,178.97h7M31.0,169.11h-3.5M228.6,169.11h3.5M31.0,159.25h-3.5M228.6,159.25h3.5M31.0,149.38h-3.5M228.6,149.38h3.5M31.0,139.52h-3.5M228.6,139.52h3.5M31.0,129.65h-7M228.6,129.65h7M31.0,119.78h-3.5M228.6,119.78h3.5M31.0,109.92h-3.5M228.6,109.92h3.5M31.0,100.06h-3.5M228.6,100.06h3.5M31.0,90.19h-3.5M228.6,90.19h3.5M31.0,80.33h-7M228.6,80.33h7M31.0,70.46h-3.5M228.6,70.46h3.5M31.0,60.60h-3.5M228.6,60.60h3.5M31.0,50.73h-3.5M228.6,50.73h3.5M31.0,40.87h-3.5M228.6,40.87h3.5M31.0,31.00h-7M228.6,31.00h7" stroke="#555" stroke-width="0.8" fill="none"/>
<rect x="31.0" y="31.0" width="197.60" height="197.30" fill="none" stroke="#000" stroke-width="1.6"/>
<text x="18.4" y="231.9" text-anchor="end" class="t">20N</text>
<text x="18.4" y="182.6" text-anchor="end" class="t">30N</text>
<text x="18.4" y="133.2" text-anchor="end" class="t">40N</text>
<text x="18.4" y="83.9" text-anchor="end" class="t">50N</text>
<text x="18.4" y="34.6" text-anchor="end" class="t">60N</text>
<text x="55.7" y="248.8" text-anchor="middle" class="t">110E</text>
<text x="105.1" y="248.8" text-anchor="middle" class="t">120E</text>
<text x="154.5" y="248.8" text-anchor="middle" class="t">130E</text>
<text x="203.9" y="248.8" text-anchor="middle" class="t">140E</text>
<path d="M273.75,228.3v3.5M273.75,31.0v-3.5M283.64,228.3v3.5M283.64,31.0v-3.5M293.54,228.3v7M293.54,31.0v-7M303.43,228.3v3.5M303.43,31.0v-3.5M313.33,228.3v3.5M313.33,31.0v-3.5M323.22,228.3v3.5M323.22,31.0v-3.5M333.12,228.3v3.5M333.12,31.0v-3.5M343.01,228.3v7M343.01,31.0v-7M352.91,228.3v3.5M352.91,31.0v-3.5M362.80,228.3v3.5M362.80,31.0v-3.5M372.70,228.3v3.5M372.70,31.0v-3.5M382.59,228.3v3.5M382.59,31.0v-3.5M392.49,228.3v7M392.49,31.0v-7M402.38,228.3v3.5M402.38,31.0v-3.5M412.28,228.3v3.5M412.28,31.0v-3.5M422.17,228.3v3.5M422.17,31.0v-3.5M432.07,228.3v3.5M432.07,31.0v-3.5M441.96,228.3v7M441.96,31.0v-7M451.86,228.3v3.5M451.86,31.0v-3.5M461.75,228.3v3.5M461.75,31.0v-3.5M268.8,228.30h-7M466.7,228.30h7M268.8,218.44h-3.5M466.7,218.44h3.5M268.8,208.57h-3.5M466.7,208.57h3.5M268.8,198.71h-3.5M466.7,198.71h3.5M268.8,188.84h-3.5M466.7,188.84h3.5M268.8,178.97h-7M466.7,178.97h7M268.8,169.11h-3.5M466.7,169.11h3.5M268.8,159.25h-3.5M466.7,159.25h3.5M268.8,149.38h-3.5M466.7,149.38h3.5M268.8,139.52h-3.5M466.7,139.52h3.5M268.8,129.65h-7M466.7,129.65h7M268.8,119.78h-3.5M466.7,119.78h3.5M268.8,109.92h-3.5M466.7,109.92h3.5M268.8,100.06h-3.5M466.7,100.06h3.5M268.8,90.19h-3.5M466.7,90.19h3.5M268.8,80.33h-7M466.7,80.33h7M268.8,70.46h-3.5M466.7,70.46h3.5M268.8,60.60h-3.5M466.7,60.60h3.5M268.8,50.73h-3.5M466.7,50.73h3.5M268.8,40.87h-3.5M466.7,40.87h3.5M268.8,31.00h-7M466.7,31.00h7" stroke="#555" stroke-width="0.8" fill="none"/>
<rect x="268.8" y="31.0" width="197.90" height="197.30" fill="none" stroke="#000" stroke-width="1.6"/>
<text x="256.2" y="231.9" text-anchor="end" class="t">20N</text>
<text x="256.2" y="182.6" text-anchor="end" class="t">30N</text>
<text x="256.2" y="133.2" text-anchor="end" class="t">40N</text>
<text x="256.2" y="83.9" text-anchor="end" class="t">50N</text>
<text x="256.2" y="34.6" text-anchor="end" class="t">60N</text>
<text x="293.5" y="248.8" text-anchor="middle" class="t">110E</text>
<text x="343.0" y="248.8" text-anchor="middle" class="t">120E</text>
<text x="392.5" y="248.8" text-anchor="middle" class="t">130E</text>
<text x="442.0" y="248.8" text-anchor="middle" class="t">140E</text>
<path d="M31.0,129.65H114.98M114.98,104.99V228.3M114.98,104.99H228.6M114.98,178.97H228.6" stroke="#000" stroke-width="1.8" fill="none"/>
<text x="34.2" y="44.7" class="r">NEA</text>
<text x="118.4" y="118.3" class="r">EEA</text>
<text x="35.0" y="143.3" class="r">SEA</text>
<path d="M268.8,129.65H352.91M352.91,104.99V228.3M352.91,104.99H466.7M352.91,178.97H466.7" stroke="#000" stroke-width="1.8" fill="none"/>
<text x="272.0" y="44.7" class="r">NEA</text>
<text x="356.3" y="118.3" class="r">EEA</text>
<text x="272.8" y="143.3" class="r">SEA</text>
<rect x="33.50" y="253.2" width="32.02" height="17.6" fill="#FFFFFF"/>
<rect x="65.52" y="253.2" width="32.02" height="17.6" fill="#FFFDC0"/>
<rect x="97.53" y="253.2" width="32.02" height="17.6" fill="#FDD585"/>
<rect x="129.55" y="253.2" width="32.02" height="17.6" fill="#FB9A55"/>
<rect x="161.57" y="253.2" width="32.02" height="17.6" fill="#E5533A"/>
<rect x="193.58" y="253.2" width="32.02" height="17.6" fill="#B30F28"/>
<path d="M65.52,253.2v17.6M97.53,253.2v17.6M129.55,253.2v17.6M161.57,253.2v17.6M193.58,253.2v17.6" stroke="#777" stroke-width="0.6"/>
<rect x="33.50" y="253.2" width="192.10" height="17.6" fill="none" stroke="#888" stroke-width="0.8"/>
<text x="65.52" y="286.9" text-anchor="middle" class="c">0.1</text>
<text x="97.53" y="286.9" text-anchor="middle" class="c">0.2</text>
<text x="129.55" y="286.9" text-anchor="middle" class="c">0.3</text>
<text x="161.57" y="286.9" text-anchor="middle" class="c">0.4</text>
<text x="193.58" y="286.9" text-anchor="middle" class="c">0.5</text>
<rect x="272.20" y="253.2" width="31.68" height="17.6" fill="#FFFFFF"/>
<rect x="303.88" y="253.2" width="31.68" height="17.6" fill="#FFFDC0"/>
<rect x="335.57" y="253.2" width="31.68" height="17.6" fill="#FDD585"/>
<rect x="367.25" y="253.2" width="31.68" height="17.6" fill="#FB9A55"/>
<rect x="398.93" y="253.2" width="31.68" height="17.6" fill="#E5533A"/>
<rect x="430.62" y="253.2" width="31.68" height="17.6" fill="#B30F28"/>
<path d="M303.88,253.2v17.6M335.57,253.2v17.6M367.25,253.2v17.6M398.93,253.2v17.6M430.62,253.2v17.6" stroke="#777" stroke-width="0.6"/>
<rect x="272.20" y="253.2" width="190.10" height="17.6" fill="none" stroke="#888" stroke-width="0.8"/>
<text x="303.88" y="286.9" text-anchor="middle" class="c">0.1</text>
<text x="335.57" y="286.9" text-anchor="middle" class="c">0.3</text>
<text x="367.25" y="286.9" text-anchor="middle" class="c">0.4</text>
<text x="398.93" y="286.9" text-anchor="middle" class="c">0.5</text>
<text x="430.62" y="286.9" text-anchor="middle" class="c">0.7</text>
<text x="29.6" y="17.2" class="p">(a)</text>
<text x="267.8" y="17.2" class="p">(b)</text>
</svg></body></html>
